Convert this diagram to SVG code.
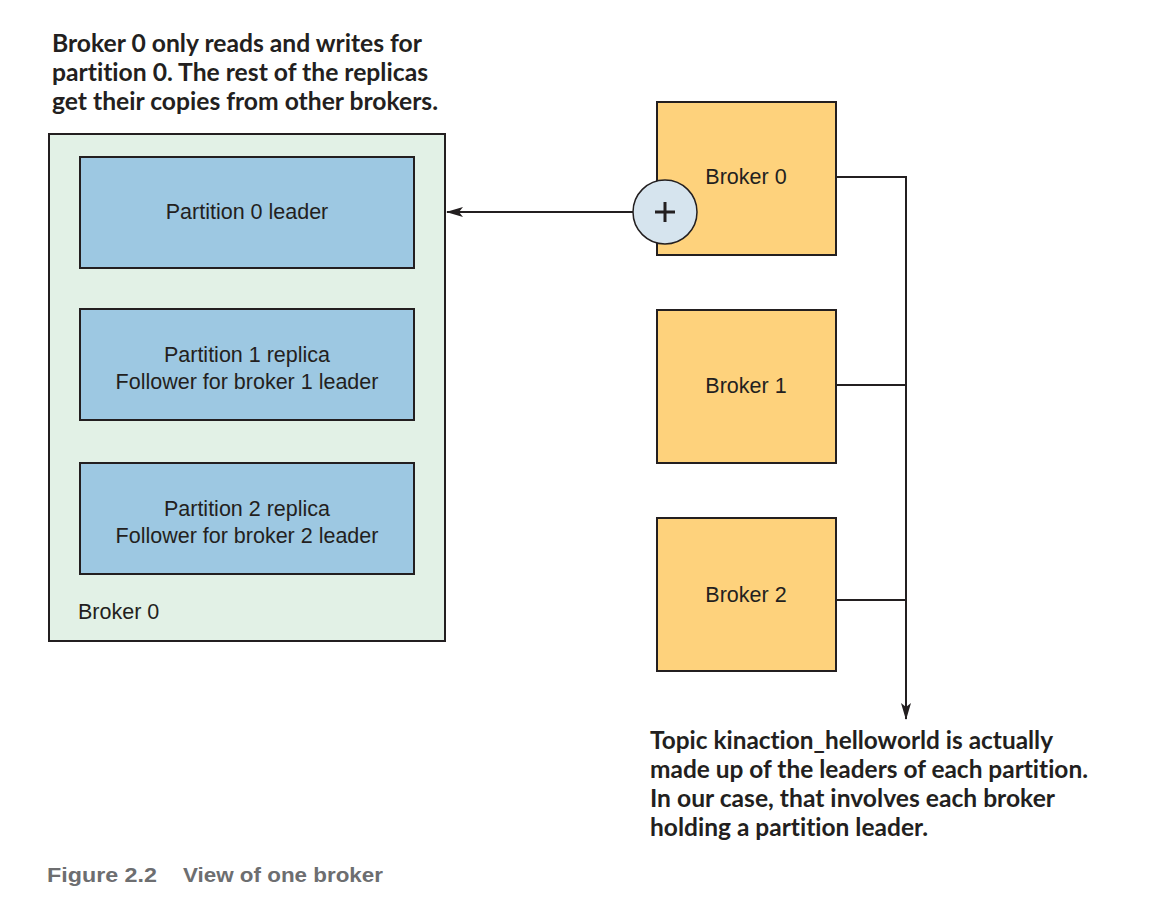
<svg xmlns="http://www.w3.org/2000/svg" width="1150" height="916" viewBox="0 0 1150 916">
<style>
.note{font-family:Lato,"Open Sans",sans-serif;font-weight:bold;font-size:24px;fill:#231f20;font-variant-ligatures:none}
.lbl{font-family:"Liberation Sans",Arial,sans-serif;font-size:21.5px;fill:#231f20}
.cap{font-family:"Liberation Sans",Arial,sans-serif;font-weight:bold;font-size:21px;fill:#6d6e70}
.box{stroke:#231f20;stroke-width:2}
.ln{stroke:#231f20;stroke-width:2;fill:none}
</style>
<defs>
<marker id="ah" markerWidth="17" markerHeight="10" refX="16" refY="5" orient="auto" markerUnits="userSpaceOnUse">
<path d="M0,0 L17,5 L0,10 L4,5 Z" fill="#231f20"/>
</marker>
</defs>
<rect width="1150" height="916" fill="#fff"/>
<g id="note-top">
<text class="note" x="52" y="52" textLength="370" lengthAdjust="spacingAndGlyphs">Broker 0 only reads and writes for</text>
<text class="note" x="52" y="81" textLength="376" lengthAdjust="spacingAndGlyphs">partition 0. The rest of the replicas</text>
<text class="note" x="52" y="110" textLength="386" lengthAdjust="spacingAndGlyphs">get their copies from other brokers.</text>
</g>
<g id="connectors">
<line class="ln" x1="633" y1="212" x2="447" y2="212" marker-end="url(#ah)"/>
<polyline class="ln" points="836,177 906,177 906,719" marker-end="url(#ah)"/>
<line class="ln" x1="836" y1="385" x2="906" y2="385"/>
<line class="ln" x1="836" y1="600" x2="906" y2="600"/>
</g>
<g id="broker0-detail">
<rect class="box" x="49" y="134" width="396" height="507" fill="#e2f1e6"/>
<text class="lbl" x="78" y="619">Broker 0</text>
</g>
<g id="p0">
<rect class="box" x="80" y="157" width="334" height="111" fill="#9dc8e2"/>
<text class="lbl" x="247" y="219" text-anchor="middle">Partition 0 leader</text>
</g>
<g id="p1">
<rect class="box" x="80" y="309" width="334" height="111" fill="#9dc8e2"/>
<text class="lbl" x="247" y="362" text-anchor="middle">Partition 1 replica</text>
<text class="lbl" x="247" y="389" text-anchor="middle">Follower for broker 1 leader</text>
</g>
<g id="p2">
<rect class="box" x="80" y="463" width="334" height="111" fill="#9dc8e2"/>
<text class="lbl" x="247" y="516" text-anchor="middle">Partition 2 replica</text>
<text class="lbl" x="247" y="543" text-anchor="middle">Follower for broker 2 leader</text>
</g>
<g id="b0">
<rect class="box" x="657" y="102" width="179" height="153" fill="#fed27c"/>
<text class="lbl" x="746" y="184" text-anchor="middle">Broker 0</text>
</g>
<g id="plus">
<circle cx="665" cy="212" r="32" fill="#d6e4ee" stroke="#231f20" stroke-width="1.5"/>
<path d="M655,212 H675 M665,202 V222" stroke="#231f20" stroke-width="3"/>
</g>
<g id="b1">
<rect class="box" x="657" y="310" width="179" height="153" fill="#fed27c"/>
<text class="lbl" x="746" y="393" text-anchor="middle">Broker 1</text>
</g>
<g id="b2">
<rect class="box" x="657" y="518" width="179" height="153" fill="#fed27c"/>
<text class="lbl" x="746" y="602" text-anchor="middle">Broker 2</text>
</g>
<g id="note-bottom">
<text class="note" x="650" y="749" textLength="403" lengthAdjust="spacingAndGlyphs">Topic kinaction_helloworld is actually</text>
<text class="note" x="650" y="778" textLength="438" lengthAdjust="spacingAndGlyphs">made up of the leaders of each partition.</text>
<text class="note" x="650" y="807" textLength="405" lengthAdjust="spacingAndGlyphs">In our case, that involves each broker</text>
<text class="note" x="650" y="836" textLength="278" lengthAdjust="spacingAndGlyphs">holding a partition leader.</text>
</g>
<g id="caption">
<text class="cap" x="47" y="882" textLength="110" lengthAdjust="spacingAndGlyphs">Figure 2.2</text>
<text class="cap" x="183" y="882" textLength="200" lengthAdjust="spacingAndGlyphs">View of one broker</text>
</g>
</svg>
